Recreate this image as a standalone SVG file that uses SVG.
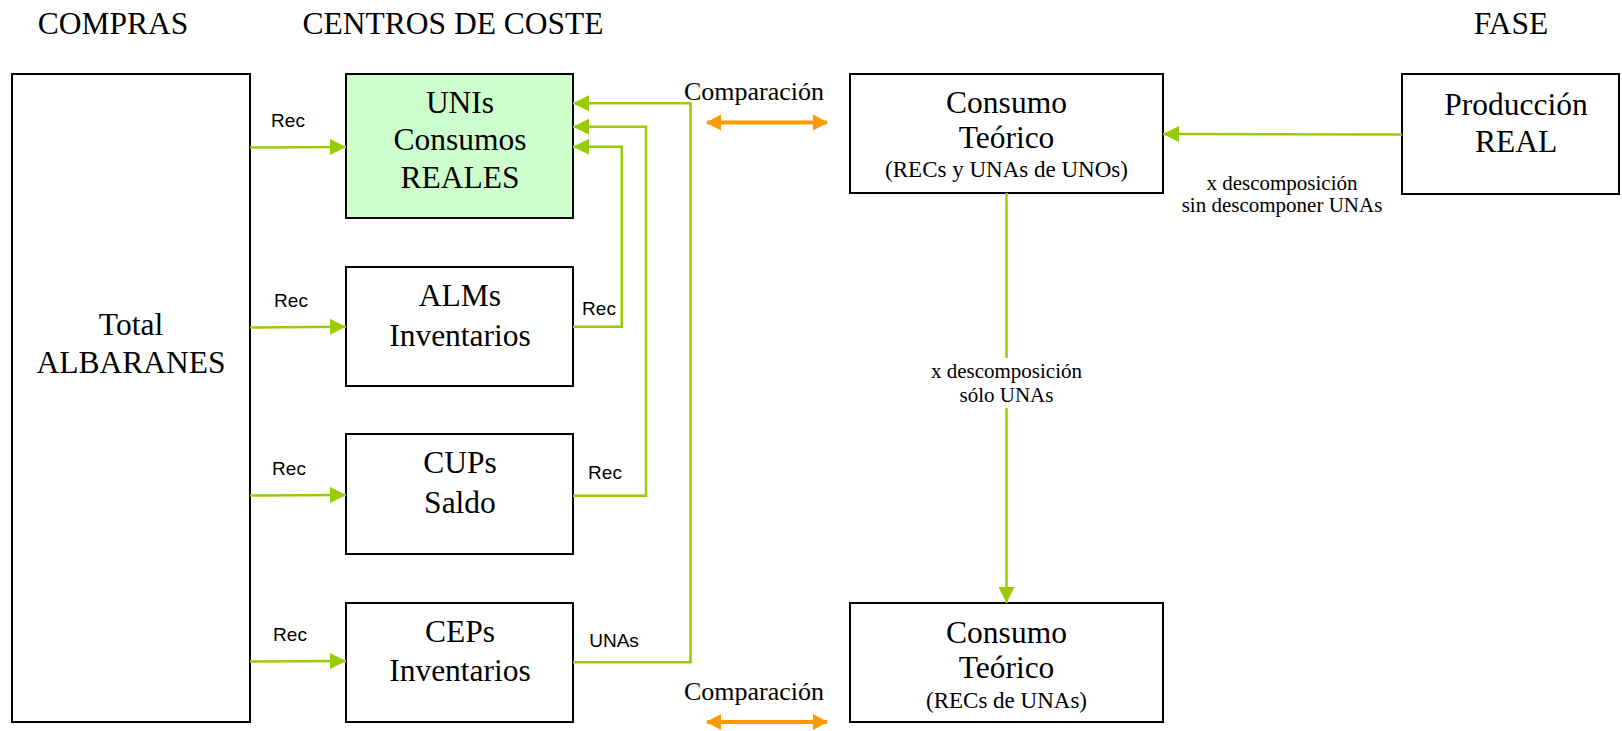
<svg xmlns="http://www.w3.org/2000/svg" width="1622" height="731" viewBox="0 0 1622 731">
<style>
.box{fill:#FFFFFF;stroke:#000000;stroke-width:2}
.hl{fill:#CCFFCC}
.t{font-family:"Liberation Serif","Times New Roman",serif;font-size:31.5px;fill:#000;text-anchor:middle}
.s{font-family:"Liberation Serif","Times New Roman",serif;font-size:23px;fill:#000;text-anchor:middle}
.m{font-family:"Liberation Serif","Times New Roman",serif;font-size:21px;fill:#000;text-anchor:middle}
.c{font-family:"Liberation Serif","Times New Roman",serif;font-size:26px;fill:#000;text-anchor:middle}
.r{font-family:"Liberation Sans",Arial,sans-serif;font-size:19px;fill:#000;text-anchor:middle}
.g{fill:none;stroke:#99CC00;stroke-width:2.5}
.o{fill:none;stroke:#FF9900;stroke-width:4}
</style>
<defs>
<marker id="ga" markerWidth="16" markerHeight="16" refX="16" refY="8" orient="auto" markerUnits="userSpaceOnUse"><path d="M0,0 L16,8 L0,16 z" fill="#99CC00"/></marker>
<marker id="oa" markerWidth="15" markerHeight="16" refX="14" refY="8" orient="auto-start-reverse" markerUnits="userSpaceOnUse"><path d="M0,0 L15,8 L0,16 z" fill="#FF9900"/></marker>
</defs>

<g id="headers">
<text class="t" x="113" y="34">COMPRAS</text>
<text class="t" x="453" y="34">CENTROS DE COSTE</text>
<text class="t" x="1511" y="34">FASE</text>
</g>

<g id="albaranes">
<rect class="box" x="12" y="74" width="238" height="648"/>
<text class="t" x="131" y="335">Total</text>
<text class="t" x="131" y="373">ALBARANES</text>
</g>

<g id="unis">
<rect class="box hl" x="346" y="74" width="227" height="144"/>
<text class="t" x="460" y="113">UNIs</text>
<text class="t" x="460" y="150">Consumos</text>
<text class="t" x="460" y="188">REALES</text>
</g>

<g id="alms">
<rect class="box" x="346" y="267" width="227" height="119"/>
<text class="t" x="460" y="306">ALMs</text>
<text class="t" x="460" y="346">Inventarios</text>
</g>

<g id="cups">
<rect class="box" x="346" y="434" width="227" height="120"/>
<text class="t" x="460" y="473">CUPs</text>
<text class="t" x="460" y="513">Saldo</text>
</g>

<g id="ceps">
<rect class="box" x="346" y="603" width="227" height="119"/>
<text class="t" x="460" y="642">CEPs</text>
<text class="t" x="460" y="681">Inventarios</text>
</g>

<g id="consumo-teorico-1">
<rect class="box" x="850" y="74" width="313" height="119"/>
<text class="t" x="1006.5" y="113">Consumo</text>
<text class="t" x="1006.5" y="148">Teórico</text>
<text class="s" x="1006.5" y="177">(RECs y UNAs de UNOs)</text>
</g>

<g id="produccion">
<rect class="box" x="1402" y="74" width="217" height="120"/>
<text class="t" x="1516" y="115">Producción</text>
<text class="t" x="1516" y="151.5">REAL</text>
</g>

<g id="consumo-teorico-2">
<rect class="box" x="850" y="603" width="313" height="119"/>
<text class="t" x="1006.5" y="643">Consumo</text>
<text class="t" x="1006.5" y="678">Teórico</text>
<text class="s" x="1006.5" y="708">(RECs de UNAs)</text>
</g>

<g id="connectors">
<line class="g" x1="250" y1="147.5" x2="346" y2="147" marker-end="url(#ga)"/>
<line class="g" x1="250" y1="327.5" x2="346" y2="326.7" marker-end="url(#ga)"/>
<line class="g" x1="250" y1="495.5" x2="346" y2="495" marker-end="url(#ga)"/>
<line class="g" x1="250" y1="661.5" x2="346" y2="661" marker-end="url(#ga)"/>
<polyline class="g" points="573,326.7 621.7,326.7 621.7,146.7 573,146.7" marker-end="url(#ga)"/>
<polyline class="g" points="573,495.7 646,495.7 646,126.7 573,126.7" marker-end="url(#ga)"/>
<polyline class="g" points="573,662.3 690.5,662.3 690.5,103.3 573,103.3" marker-end="url(#ga)"/>
<line class="g" x1="1402" y1="134.4" x2="1163" y2="134" marker-end="url(#ga)"/>
<line class="g" x1="1006.5" y1="193" x2="1006.5" y2="358"/>
<line class="g" x1="1006.5" y1="408" x2="1006.5" y2="603" marker-end="url(#ga)"/>
<line class="o" x1="707" y1="122.5" x2="827" y2="122.5" marker-start="url(#oa)" marker-end="url(#oa)"/>
<line class="o" x1="707" y1="722" x2="827" y2="722" marker-start="url(#oa)" marker-end="url(#oa)"/>
<text class="r" x="288" y="127">Rec</text>
<text class="r" x="291" y="307">Rec</text>
<text class="r" x="289" y="475">Rec</text>
<text class="r" x="290" y="641">Rec</text>
<text class="r" x="599" y="315">Rec</text>
<text class="r" x="605" y="479">Rec</text>
<text class="r" x="614" y="647">UNAs</text>
<text class="c" x="754" y="100">Comparación</text>
<text class="c" x="754" y="700">Comparación</text>
<text class="m" x="1006.5" y="378">x descomposición</text>
<text class="m" x="1006.5" y="402">sólo UNAs</text>
<text class="m" x="1282" y="190">x descomposición</text>
<text class="m" x="1282" y="212">sin descomponer UNAs</text>
</g>
</svg>
